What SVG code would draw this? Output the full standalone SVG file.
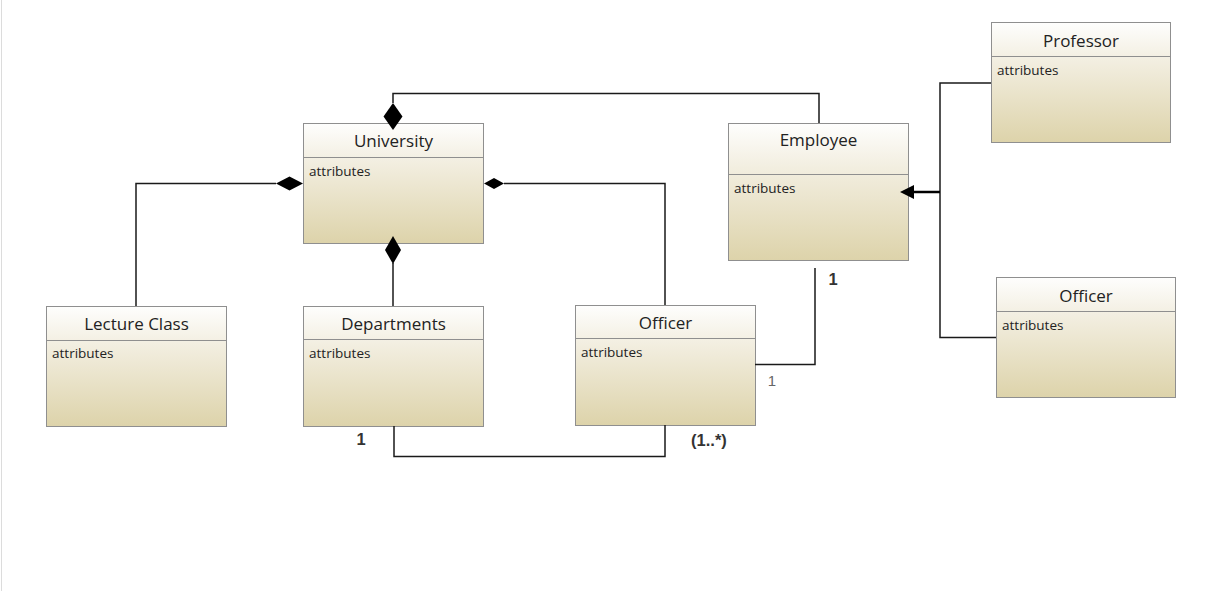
<svg xmlns="http://www.w3.org/2000/svg" width="1205" height="591" viewBox="0 0 1205 591">
<style>
.box{stroke:#8f8f8f;stroke-width:1;fill:url(#g)}
.sep{stroke:#8f8f8f;stroke-width:1}
.title{font-family:"Open Sans","Noto Sans",sans-serif;font-size:17px;fill:#222;text-anchor:middle}
.attr{font-family:"Open Sans","Noto Sans",sans-serif;font-size:13.5px;fill:#222}
.con{fill:none;stroke:#1a1a1a;stroke-width:1.5}
.dia{fill:#000}
.mb{font-family:"Liberation Sans",Arial,sans-serif;font-size:16.5px;font-weight:bold;fill:#333;text-anchor:middle}
.mr{font-family:"Liberation Sans",Arial,sans-serif;font-size:15px;fill:#666;text-anchor:middle}
</style>
<defs>
<linearGradient id="g" x1="0" y1="0" x2="0" y2="1">
<stop offset="0" stop-color="#fefefd"/>
<stop offset="0.3" stop-color="#f3efe2"/>
<stop offset="1" stop-color="#ddd3aa"/>
</linearGradient>
</defs>
<rect width="1205" height="591" fill="#fff"/>
<line x1="1.5" y1="0" x2="1.5" y2="591" stroke="#dcdcdc" stroke-width="1"/>

<g id="university">
<rect class="box" x="303.5" y="123.5" width="180" height="120"/>
<line class="sep" x1="303.5" y1="157.5" x2="483.5" y2="157.5"/>
<text class="title" x="393.5" y="146.5">University</text>
<text class="attr" x="309" y="175.5">attributes</text>
</g>

<g id="employee">
<rect class="box" x="728.5" y="123.5" width="180" height="137"/>
<line class="sep" x1="728.5" y1="174.5" x2="908.5" y2="174.5"/>
<text class="title" x="818.5" y="145.5">Employee</text>
<text class="attr" x="734" y="192.5">attributes</text>
</g>

<g id="professor">
<rect class="box" x="991.5" y="22.5" width="179" height="120"/>
<line class="sep" x1="991.5" y1="56.5" x2="1170.5" y2="56.5"/>
<text class="title" x="1081" y="47">Professor</text>
<text class="attr" x="997" y="74.5">attributes</text>
</g>

<g id="officer-right">
<rect class="box" x="996.5" y="277.5" width="179" height="120"/>
<line class="sep" x1="996.5" y1="311.5" x2="1175.5" y2="311.5"/>
<text class="title" x="1086" y="302">Officer</text>
<text class="attr" x="1002" y="329.5">attributes</text>
</g>

<g id="lecture-class">
<rect class="box" x="46.5" y="306.5" width="180" height="120"/>
<line class="sep" x1="46.5" y1="340.5" x2="226.5" y2="340.5"/>
<text class="title" x="136.5" y="330">Lecture Class</text>
<text class="attr" x="52" y="357.5">attributes</text>
</g>

<g id="departments">
<rect class="box" x="303.5" y="306.5" width="180" height="120"/>
<line class="sep" x1="303.5" y1="339.5" x2="483.5" y2="339.5"/>
<text class="title" x="393.5" y="330">Departments</text>
<text class="attr" x="309" y="357.5">attributes</text>
</g>

<g id="officer-mid">
<rect class="box" x="575.5" y="305.5" width="180" height="120"/>
<line class="sep" x1="575.5" y1="338.5" x2="755.5" y2="338.5"/>
<text class="title" x="665.5" y="329">Officer</text>
<text class="attr" x="581" y="356.5">attributes</text>
</g>

<g id="connectors">
<polyline class="con" points="393,103 393,93.5 819,93.5 819,123"/>
<polyline class="con" points="276,183.5 136,183.5 136,306"/>
<polyline class="con" points="504,183.5 665,183.5 665,305"/>
<polyline class="con" points="393,263 393,306"/>
<polyline class="con" points="394,426 394,456.5 665,456.5 665,425"/>
<polyline class="con" points="815,268 815,364.5 755,364.5"/>
<polyline class="con" points="991,83 940,83 940,337.5 996,337.5"/>
<line x1="940" y1="192" x2="912" y2="192" stroke="#000" stroke-width="2.5"/>
<polygon points="900,192 914,185 914,199" fill="#000"/>
<polygon class="dia" points="393,103 402.5,116.5 393,130 383.5,116.5"/>
<polygon class="dia" points="276,183.5 289.5,176.5 303,183.5 289.5,190.5"/>
<polygon class="dia" points="484,183.5 494,178 504,183.5 494,189"/>
<polygon class="dia" points="393,236 401,250 393,264 385,250"/>
<text class="mb" x="833" y="285">1</text>
<text class="mr" x="772" y="386">1</text>
<text class="mb" x="361" y="445">1</text>
<text class="mb" x="709" y="446">(1..*)</text>
</g>
</svg>
